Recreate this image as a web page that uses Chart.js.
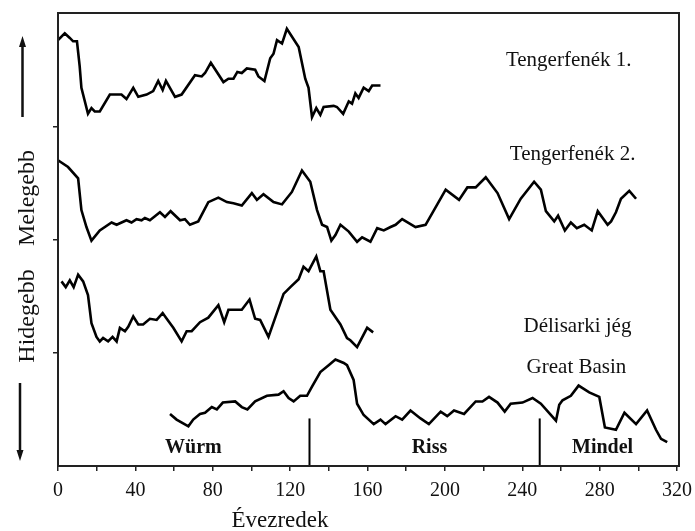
<!DOCTYPE html>
<html>
<head>
<meta charset="utf-8">
<script src="https://cdn.jsdelivr.net/npm/chart.js@4/dist/chart.umd.min.js"></script>
<style>
  body { margin: 0; background: #fff; }
  canvas { display: block; }
</style>
</head>
<body>
<canvas id="chart" width="695" height="531"></canvas>
<script>
// years (thousands) vs. relative temperature, four stacked records
var seaFloor1 = [[0,3.76],[3.5,3.82],[6.1,3.78],[7.8,3.75],[9.8,3.75],[11.2,3.53],[12.1,3.34],[15.5,3.11],[17.3,3.16],[19,3.13],[21.6,3.13],[26.8,3.28],[32.8,3.28],[35.4,3.24],[38.9,3.34],[41.5,3.26],[45.8,3.28],[49.2,3.31],[51.8,3.40],[54.1,3.32],[55.8,3.40],[60.5,3.26],[63.9,3.28],[70.8,3.45],[74.3,3.44],[76,3.47],[79,3.56],[85.5,3.39],[88.1,3.42],[90.7,3.42],[92.7,3.48],[95,3.47],[97.6,3.51],[101.9,3.50],[103.6,3.44],[106.7,3.40],[109.7,3.60],[111.4,3.64],[113.2,3.76],[115.8,3.73],[118.3,3.86],[124.4,3.70],[127.8,3.42],[129.5,3.34],[131.3,3.08],[133.5,3.16],[135.6,3.10],[137.3,3.17],[142.5,3.18],[144.2,3.17],[147.4,3.11],[150.3,3.22],[152,3.20],[153.7,3.29],[155.4,3.25],[158,3.34],[160.6,3.31],[162.4,3.36],[166.7,3.36]];

var seaFloor2 = [[0,2.70],[5.2,2.64],[10.4,2.54],[12.1,2.26],[14.7,2.11],[17.3,1.99],[21.6,2.08],[27.7,2.15],[30.3,2.13],[35.4,2.17],[38,2.15],[40.6,2.18],[43.2,2.17],[44.9,2.19],[47.5,2.17],[52.7,2.24],[55.3,2.20],[58.2,2.25],[63.1,2.17],[65.6,2.18],[68.2,2.13],[72.5,2.16],[77.7,2.33],[82.9,2.37],[87.3,2.33],[90.7,2.32],[95,2.30],[100.2,2.41],[102.8,2.35],[106.2,2.40],[111.4,2.33],[115.8,2.31],[120.9,2.42],[126.1,2.61],[130.4,2.51],[133.9,2.26],[136.5,2.13],[139.1,2.11],[141.3,1.99],[143.4,2.04],[146,2.13],[150.3,2.07],[154.6,1.98],[157.2,2.02],[161.5,1.98],[165,2.10],[168.4,2.08],[171.9,2.11],[174.5,2.13],[177.9,2.18],[184.8,2.11],[190,2.13],[200.4,2.44],[207.3,2.35],[211.6,2.46],[215.9,2.46],[221.1,2.55],[227.2,2.41],[233.2,2.18],[239.2,2.36],[246.1,2.51],[249.6,2.44],[252.2,2.25],[256.5,2.16],[258.5,2.21],[262,2.08],[265.1,2.15],[268.2,2.10],[272,2.13],[275.9,2.08],[279,2.25],[284.1,2.13],[285.9,2.16],[288.4,2.24],[291,2.36],[295.3,2.43],[298.8,2.36]];

var antarcticIce = [[1.8,1.63],[4,1.58],[6.1,1.64],[8.1,1.58],[10.4,1.69],[13,1.63],[15.5,1.51],[17.3,1.26],[19.9,1.14],[21.6,1.10],[23.3,1.13],[25.9,1.10],[28.2,1.14],[30.3,1.10],[32,1.22],[34.6,1.19],[36.3,1.23],[38.9,1.32],[41.5,1.25],[44,1.25],[47.5,1.30],[51,1.29],[54.1,1.35],[56.2,1.30],[59.6,1.22],[63.9,1.10],[66.5,1.19],[69.1,1.19],[73.4,1.27],[77.7,1.31],[82.9,1.42],[85.9,1.27],[88.1,1.38],[92.6,1.38],[95,1.38],[99,1.47],[101.9,1.30],[104.5,1.29],[108.8,1.14],[116.6,1.52],[120.1,1.58],[124.4,1.65],[126.9,1.76],[129.5,1.72],[133.5,1.85],[135.6,1.72],[137.3,1.72],[140.8,1.38],[146,1.25],[149.4,1.13],[151.1,1.11],[154.6,1.05],[159.8,1.22],[162.9,1.18]];

var greatBasin = [[57.9,0.46],[61.3,0.41],[67.4,0.35],[69.9,0.41],[73.4,0.46],[76,0.47],[79.5,0.52],[82.1,0.50],[85.2,0.56],[91.6,0.57],[95,0.52],[97.9,0.50],[101.9,0.57],[108,0.62],[114,0.63],[116.6,0.66],[119.2,0.60],[121.8,0.57],[125.2,0.62],[128.7,0.62],[131.3,0.70],[135.6,0.83],[139.9,0.89],[143.4,0.94],[147.7,0.91],[149.4,0.89],[152.8,0.76],[154.6,0.55],[158,0.45],[163.2,0.37],[166.7,0.41],[169.3,0.37],[174.5,0.44],[177.9,0.41],[182.2,0.49],[187.4,0.42],[191.7,0.37],[197.8,0.48],[201.2,0.44],[204.7,0.49],[209.9,0.46],[215.9,0.57],[219.4,0.57],[222.8,0.61],[227.2,0.56],[230.9,0.48],[234,0.55],[240.1,0.56],[245.3,0.60],[249.6,0.55],[257.4,0.40],[259.1,0.54],[260.8,0.58],[265.1,0.62],[269.1,0.71],[274.6,0.65],[279.8,0.61],[282.7,0.34],[288.4,0.32],[292.8,0.47],[298.8,0.37],[304.5,0.49],[309.1,0.32],[311.7,0.24],[314.9,0.21]];

var seriesNames = ['Tengerfenék 1.', 'Tengerfenék 2.', 'Délisarki jég', 'Great Basin'];
var stageNames = ['Würm', 'Riss', 'Mindel'];
var stageBounds = [130, 249];
var boundHeight = 0.42;
var xTicks = [0, 40, 80, 120, 160, 200, 240, 280, 320];

function toPoints(arr) {
    return arr.map(function (p) { return { x: p[0], y: p[1] }; });
}

function lineSet(arr, width) {
    return {
        data: toPoints(arr),
        borderColor: '#000',
        borderWidth: width,
        pointRadius: 0,
        tension: 0,
        fill: false
    };
}

var datasets = [
    lineSet(seaFloor1, 2.6),
    lineSet(seaFloor2, 2.6),
    lineSet(antarcticIce, 2.6),
    lineSet(greatBasin, 2.6)
];
stageBounds.forEach(function (b) {
    datasets.push(lineSet([[b, 0], [b, boundHeight]], 2));
});

var serif = "'Liberation Serif', 'Times New Roman', serif";

// box around the plot + series / stage labels + rotated y title with arrows
var decor = {
    id: 'decor',
    afterDraw: function (chart) {
        var c = chart.ctx, a = chart.chartArea;
        var xs = chart.scales.x, ys = chart.scales.y;
        c.save();
        c.strokeStyle = '#222';
        c.lineWidth = 2;
        c.strokeRect(a.left, a.top, a.right - a.left, a.bottom - a.top);

        c.fillStyle = '#111';
        c.textAlign = 'center';
        c.textBaseline = 'middle';
        c.font = '21px ' + serif;
        var namePos = [[264, 3.58], [266, 2.75], [268.5, 1.23], [268, 0.87]];
        seriesNames.forEach(function (n, i) {
            c.fillText(n, xs.getPixelForValue(namePos[i][0]), ys.getPixelForValue(namePos[i][1]));
        });

        c.font = 'bold 20px ' + serif;
        var stageX = [70, 192, 281.5];
        stageNames.forEach(function (n, i) {
            c.fillText(n, xs.getPixelForValue(stageX[i]), ys.getPixelForValue(0.16));
        });

        // x title
        c.font = '23px ' + serif;
        c.fillText('Évezredek', 280, 521);

        // y title
        c.save();
        c.translate(28, 0);
        c.rotate(-Math.PI / 2);
        c.font = '24px ' + serif;
        c.fillText('Melegebb', -198, 0);
        c.fillText('Hidegebb', -316, 0);
        c.restore();

        // arrows
        c.lineWidth = 2.5;
        c.strokeStyle = '#111';
        c.beginPath();
        c.moveTo(22.5, 117); c.lineTo(22.5, 44);
        c.moveTo(20, 383); c.lineTo(20, 454);
        c.stroke();
        c.beginPath();
        c.moveTo(22.5, 36); c.lineTo(19, 47); c.lineTo(26, 47); c.closePath();
        c.moveTo(20, 461); c.lineTo(16.5, 450); c.lineTo(23.5, 450); c.closePath();
        c.fill();
        c.restore();
    }
};

var ctx = document.getElementById('chart').getContext('2d');
var chart = new Chart(ctx, {
    type: 'line',
    data: { datasets: datasets },
    options: {
        responsive: false,
        animation: false,
        layout: { padding: { top: 13, right: 16, left: 0, bottom: 0 } },
        scales: {
            x: {
                type: 'linear',
                min: 0,
                max: 321,
                afterBuildTicks: function (s) {
                    var t = [];
                    for (var v = 0; v <= 320; v += 20) t.push({ value: v });
                    s.ticks = t;
                },
                ticks: {
                    autoSkip: false,
                    maxRotation: 0,
                    padding: 8,
                    color: '#111',
                    font: { family: serif, size: 20 },
                    callback: function (v) { return xTicks.indexOf(v) >= 0 ? String(v) : ''; }
                },
                grid: { drawOnChartArea: false, tickLength: 5, color: '#222', lineWidth: 1.5 },
                border: { color: '#222', width: 2 },
                afterFit: function (s) {
                    s.height = 65;
                    s.paddingLeft = 0;
                    s.paddingRight = 0;
                }
            },
            y: {
                min: 0,
                max: 4,
                ticks: { stepSize: 1, display: false },
                grid: {
                    drawOnChartArea: false,
                    tickLength: 5,
                    lineWidth: 1.5,
                    color: function (c) {
                        return (c.tick && c.tick.value > 0 && c.tick.value < 4) ? '#222' : 'rgba(0,0,0,0)';
                    }
                },
                border: { color: '#222', width: 2 },
                afterFit: function (s) {
                    s.width = 58;
                    s.paddingTop = 0;
                    s.paddingBottom = 0;
                }
            }
        },
        plugins: {
            legend: { display: false },
            tooltip: { enabled: false }
        }
    },
    plugins: [decor]
});
</script>
</body>
</html>
